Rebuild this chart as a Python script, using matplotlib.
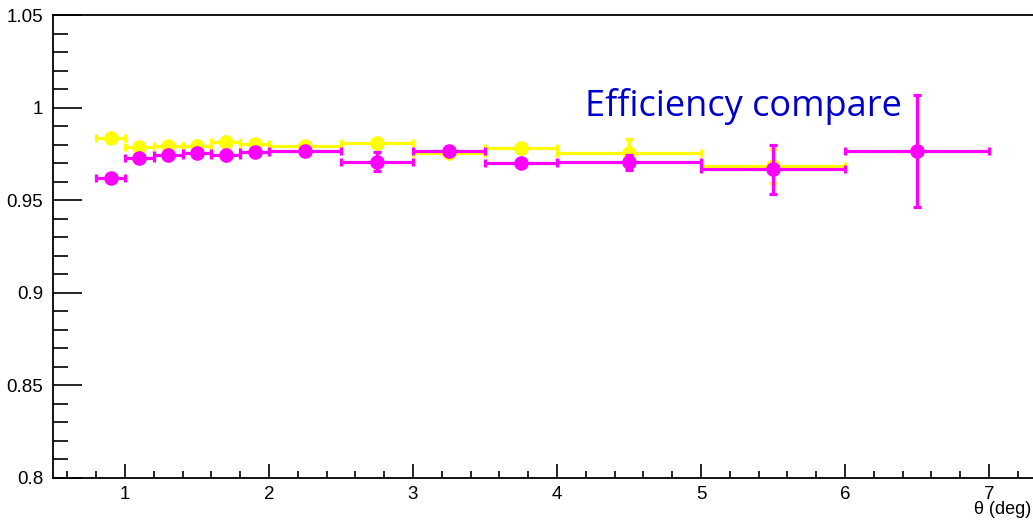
import matplotlib.pyplot as plt
from matplotlib.ticker import MultipleLocator

# bins in theta (deg)
bin_lo = [0.8, 1.0, 1.2, 1.4, 1.6, 1.8, 2.0, 2.5, 3.0, 3.5, 4.0, 5.0, 6.0]
bin_hi = [1.0, 1.2, 1.4, 1.6, 1.8, 2.0, 2.5, 3.0, 3.5, 4.0, 5.0, 6.0, 7.0]

# yellow series (no entry in last bin)
eff_yellow = [0.9836, 0.9787, 0.9793, 0.9790, 0.9814, 0.9803, 0.9790, 0.9807, 0.9755, 0.9783, 0.9753, 0.9685]
err_yellow = [0.0015, 0.0015, 0.0015, 0.0015, 0.0015, 0.0015, 0.0015, 0.0020, 0.0020, 0.0025, 0.0080, 0.0090]

# magenta series
eff_magenta = [0.9620, 0.9728, 0.9744, 0.9755, 0.9744, 0.9760, 0.9765, 0.9708, 0.9766, 0.9702, 0.9705, 0.9668, 0.9766]
err_magenta = [0.0015, 0.0015, 0.0015, 0.0015, 0.0015, 0.0015, 0.0015, 0.0050, 0.0020, 0.0020, 0.0040, 0.0132, 0.0304]

centers = [(a + b) / 2 for a, b in zip(bin_lo, bin_hi)]
halfw = [(b - a) / 2 for a, b in zip(bin_lo, bin_hi)]

plt.rcParams['font.family'] = ['Liberation Sans', 'DejaVu Sans']

fig = plt.figure(figsize=(10.33, 5.24), dpi=100)
ax = fig.add_axes([53/1033, 46/524, 1008/1033, 463/524])

n = len(eff_yellow)
ax.errorbar(centers[:n], eff_yellow, xerr=halfw[:n], yerr=err_yellow, fmt='o', color='#ffff00',
            ms=9.5, elinewidth=2.3, capsize=3, capthick=2.3, zorder=2)
ax.errorbar(centers, eff_magenta, xerr=halfw, yerr=err_magenta, fmt='o', color='#ff00ff',
            ms=9.5, elinewidth=2.3, capsize=3, capthick=2.3, zorder=3)

ax.set_xlim(0.5, 7.5)
ax.set_ylim(0.8, 1.05)
ax.xaxis.set_major_locator(MultipleLocator(1))
ax.xaxis.set_minor_locator(MultipleLocator(0.2))
ax.yaxis.set_major_locator(MultipleLocator(0.05))
ax.yaxis.set_minor_locator(MultipleLocator(0.01))
ax.set_yticks([0.8, 0.85, 0.9, 0.95, 1.0, 1.05])
ax.set_yticklabels(['0.8', '0.85', '0.9', '0.95', '1', '1.05'])
ax.tick_params(axis='y', which='major', direction='in', length=21, width=1.2, labelsize=13.5, pad=7)
ax.tick_params(axis='y', which='minor', direction='in', length=11, width=1.2)
ax.tick_params(axis='x', which='major', direction='in', length=10, width=1.2, labelsize=13.5, pad=6)
ax.tick_params(axis='x', which='minor', direction='in', length=5, width=1.2)
for s in ax.spines.values():
    s.set_linewidth(1.3)

fig.text(743/1033, 1 - 106/524, 'Efficiency compare', color='#0000cc',
         fontsize=26, family='Open Sans', ha='center', va='center')
fig.text(1031/1033, 14/524, 'θ (deg)', ha='right', va='center', fontsize=13)

fig.savefig('out.png', dpi=100)
